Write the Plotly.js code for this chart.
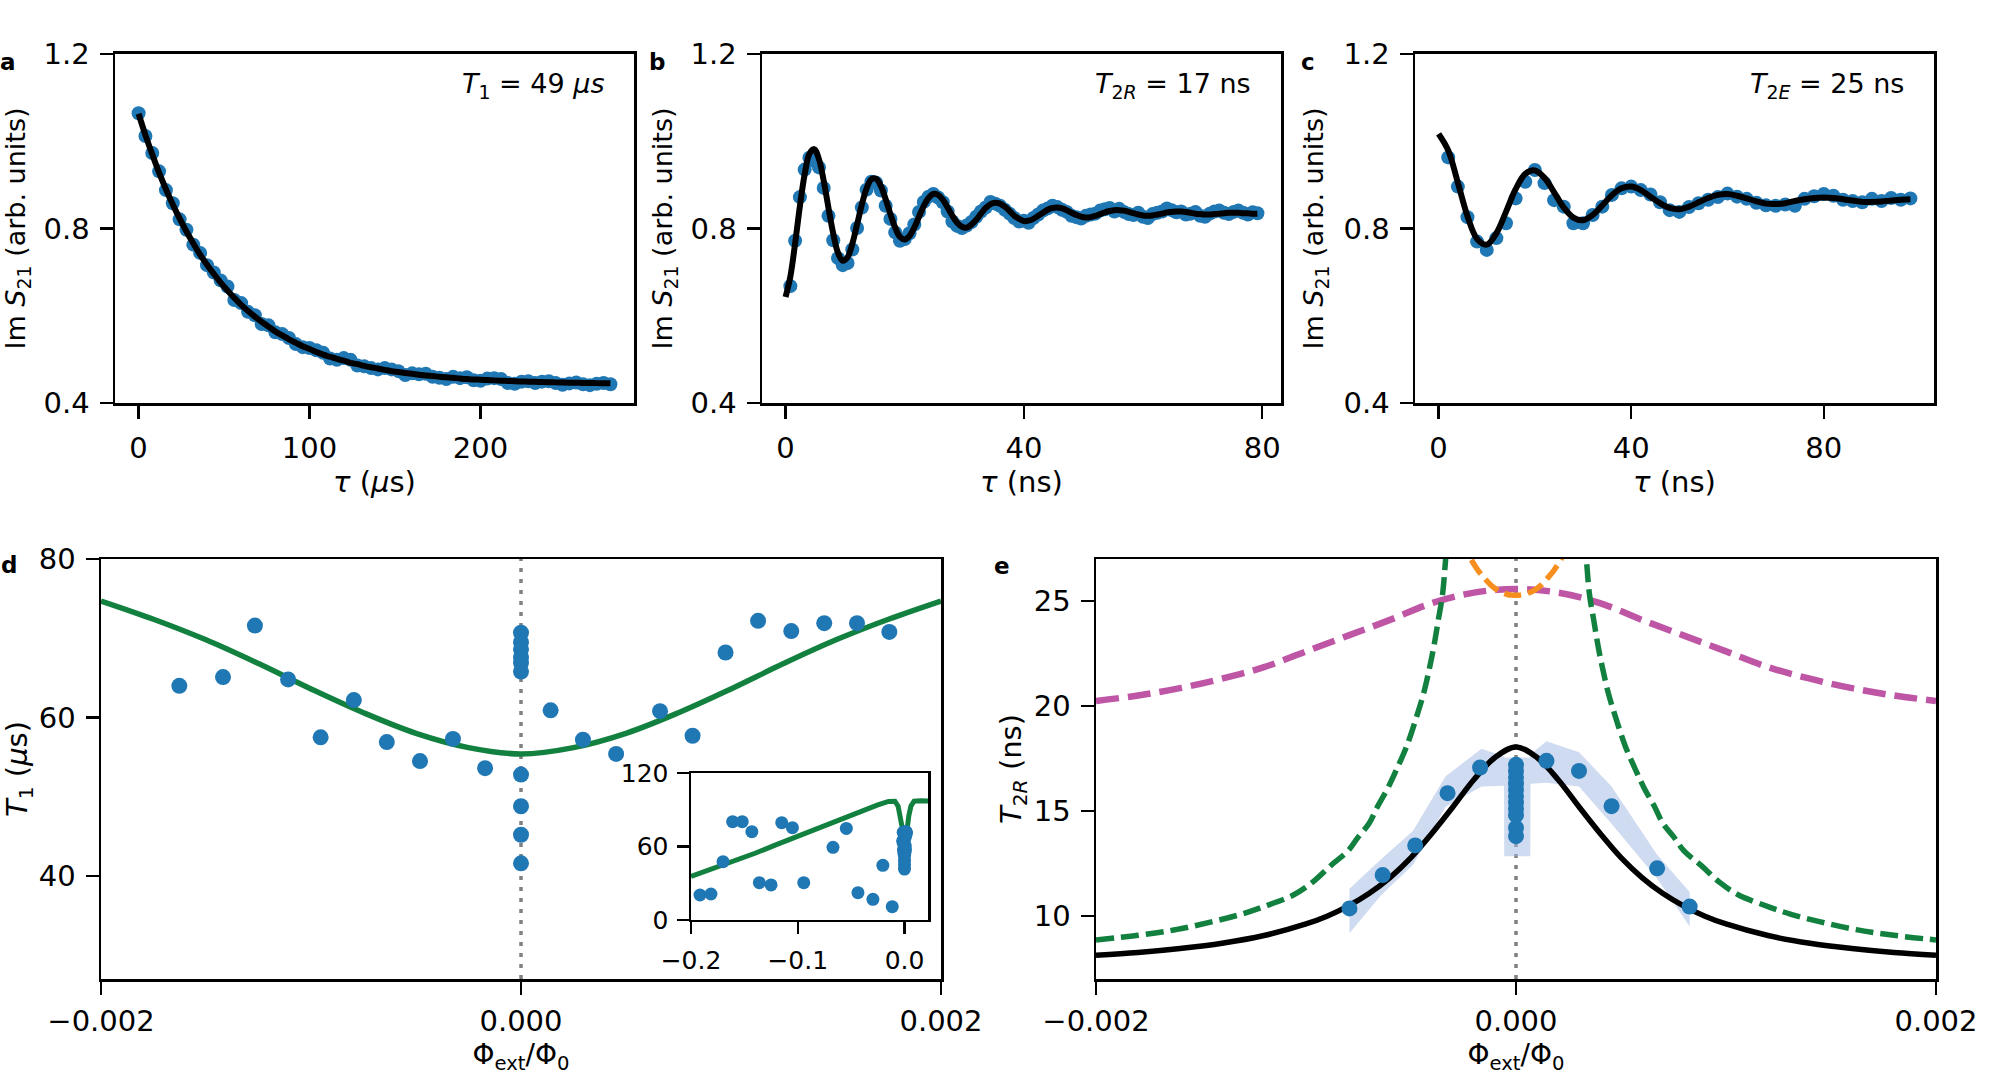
<!DOCTYPE html>
<html>
<head>
<meta charset="utf-8">
<script src="https://cdn.plot.ly/plotly-3.0.1.min.js"></script>
<style>
  body { margin: 0; background: white; }
  #graphDiv { width: 2000px; height: 1075px; }
</style>
</head>
<body>
<div id="graphDiv"></div>
<script>
// panel a: T1 decay
var tA = [0,4,8,12,16,20,24,28,32,36,40,44,48,52,56,60,64,68,72,76,80,84,88,92,96,100,104,108,112,116,
  120,124,128,132,136,140,144,148,152,156,160,164,168,172,176,180,184,188,192,196,200,204,208,212,216,220,
  224,228,232,236,240,244,248,252,256,260,264,268,272,276];
var dataA = [1.064,1.012,0.973,0.931,0.888,0.858,0.821,0.797,0.763,0.744,
  0.716,0.699,0.681,0.667,0.636,0.629,0.609,0.601,0.581,0.578,
  0.562,0.558,0.549,0.535,0.528,0.526,0.521,0.515,0.502,0.499,
  0.503,0.499,0.486,0.484,0.480,0.477,0.480,0.477,0.473,0.464,
  0.468,0.466,0.467,0.460,0.458,0.455,0.460,0.457,0.459,0.452,
  0.451,0.456,0.457,0.455,0.446,0.444,0.449,0.450,0.446,0.449,
  0.450,0.446,0.442,0.445,0.447,0.443,0.441,0.444,0.446,0.443];
var fitA = [1.063,1.014,0.970,0.928,0.890,0.855,0.823,0.793,0.766,0.740,
  0.717,0.696,0.676,0.658,0.641,0.625,0.611,0.598,0.586,0.575,
  0.564,0.555,0.546,0.538,0.530,0.524,0.517,0.511,0.506,0.501,
  0.497,0.492,0.489,0.485,0.482,0.479,0.476,0.473,0.471,0.469,
  0.467,0.465,0.463,0.462,0.460,0.459,0.458,0.456,0.455,0.454,
  0.4535,0.4527,0.4519,0.4512,0.4506,0.4499,0.4494,0.4489,0.4485,0.4480,
  0.4476,0.4473,0.4469,0.4466,0.4463,0.4461,0.4458,0.4456,0.4454,0.4452];

// panel b: Ramsey
var tB = [0,0.8,1.6,2.4,3.2,4,4.8,5.6,6.4,7.2,8,8.8,9.6,10.4,11.2,12,12.8,13.6,14.4,15.2,
  16,16.8,17.6,18.4,19.2,20,20.8,21.6,22.4,23.2,24,24.8,25.6,26.4,27.2,28,28.8,29.6,30.4,31.2,
  32,32.8,33.6,34.4,35.2,36,36.8,37.6,38.4,39.2,40,40.8,41.6,42.4,43.2,44,44.8,45.6,46.4,47.2,
  48,48.8,49.6,50.4,51.2,52,52.8,53.6,54.4,55.2,56,56.8,57.6,58.4,59.2,60,60.8,61.6,62.4,63.2,
  64,64.8,65.6,66.4,67.2,68,68.8,69.6,70.4,71.2,72,72.8,73.6,74.4,75.2,76,76.8,77.6,78.4,79.2];
var fitB = [0.643,0.690,0.766,0.851,0.924,0.971,0.982,0.959,0.909,0.847,
  0.788,0.744,0.726,0.734,0.765,0.809,0.855,0.892,0.913,0.914,
  0.897,0.867,0.833,0.802,0.781,0.775,0.783,0.802,0.827,0.852,
  0.870,0.879,0.877,0.866,0.848,0.829,0.813,0.804,0.802,0.809,
  0.820,0.834,0.847,0.856,0.859,0.857,0.850,0.840,0.829,0.822,
  0.817,0.818,0.822,0.829,0.836,0.843,0.847,0.848,0.846,0.842,
  0.836,0.831,0.827,0.825,0.826,0.829,0.833,0.837,0.840,0.842,
  0.842,0.841,0.838,0.835,0.832,0.830,0.829,0.830,0.832,0.834,
  0.837,0.838,0.839,0.839,0.838,0.836,0.834,0.833,0.832,0.832,
  0.833,0.834,0.835,0.836,0.836,0.836,0.835,0.835,0.834,0.834];
var dataB = [0.668,0.772,0.872,0.935,0.962,0.955,0.940,0.893,0.829,
  0.773,0.732,0.716,0.721,0.752,0.801,0.848,0.889,0.907,0.905,
  0.887,0.852,0.822,0.791,0.772,0.776,0.789,0.809,0.838,0.861,
  0.873,0.879,0.871,0.860,0.839,0.816,0.806,0.801,0.807,0.815,
  0.827,0.839,0.848,0.861,0.857,0.852,0.843,0.834,0.824,0.816,
  0.818,0.813,0.824,0.832,0.841,0.846,0.852,0.849,0.843,0.838,
  0.829,0.826,0.823,0.829,0.832,0.834,0.841,0.844,0.847,0.839,
  0.845,0.838,0.833,0.831,0.836,0.827,0.824,0.833,0.836,0.839,
  0.846,0.842,0.837,0.839,0.832,0.834,0.838,0.829,0.827,0.834,
  0.839,0.841,0.836,0.833,0.838,0.841,0.836,0.832,0.837,0.835];

// panel c: echo
var tC = [0,2,4,6,8,10,12,14,16,18,20,22,24,26,28,30,32,34,36,38,40,42,44,46,48,
  50,52,54,56,58,60,62,64,66,68,70,72,74,76,78,80,82,84,86,88,90,92,94,96,98];
var fitC = [1.017,0.979,0.905,0.828,0.776,0.763,0.789,0.838,0.890,0.925,
  0.933,0.916,0.883,0.848,0.825,0.819,0.831,0.853,0.876,0.892,
  0.896,0.888,0.873,0.858,0.847,0.844,0.850,0.860,0.870,0.877,
  0.879,0.875,0.869,0.862,0.857,0.856,0.858,0.863,0.867,0.870,
  0.871,0.870,0.867,0.864,0.861,0.861,0.862,0.864,0.866,0.867];
var dataC = [0.963,0.896,0.826,0.770,0.751,0.778,0.812,0.869,0.907,0.934,
  0.904,0.865,0.850,0.812,0.812,0.831,0.850,0.877,0.892,0.896,
  0.888,0.878,0.860,0.842,0.838,0.849,0.858,0.866,0.872,0.880,
  0.873,0.868,0.859,0.853,0.852,0.855,0.852,0.868,0.874,0.879,
  0.875,0.866,0.863,0.860,0.868,0.863,0.870,0.866,0.869];

// panel d: T1 vs flux
var phiD = [-0.001627,-0.001419,-0.001267,-0.001109,-0.000954,-0.000796,-0.000639,-0.000481,-0.000324,-0.000171,
  0,0,0,0,0,0,0,0,0,0,
  0.000141,0.000295,0.000453,0.000662,0.000817,0.000974,0.001129,0.001287,0.001444,0.0016,0.001754];
var t1D = [64.0,65.1,71.6,64.8,57.5,62.2,56.9,54.5,57.3,53.6,
  70.7,69.5,68.6,67.6,66.9,65.8,52.8,48.8,45.2,41.6,
  60.9,57.2,55.4,60.8,57.7,68.2,72.2,70.9,71.9,71.9,70.8];
var phiFitD = [-0.002,-0.00175,-0.0015,-0.00125,-0.001,-0.00075,-0.0005,-0.00025,0,
  0.00025,0.0005,0.00075,0.001,0.00125,0.0015,0.00175,0.002];
var t1FitD = [74.7,72.4,69.8,66.8,63.6,60.6,58.0,56.2,55.4,56.2,58.0,60.6,63.6,66.8,69.8,72.4,74.7];

// inset of d
var phiIn = [-0.1916,-0.1813,-0.170,-0.161,-0.152,-0.143,-0.136,-0.125,-0.115,-0.105,-0.0944,
  -0.067,-0.0545,-0.0436,-0.0296,-0.0203,-0.0115];
var t1In = [20.4,21.2,47.6,80.3,80.3,72.1,30.5,28.6,79.5,75.4,30.5,59.3,74.8,22.3,16.9,44.6,10.9];
var phiFitIn = [-0.2,-0.18,-0.16,-0.14,-0.12,-0.1,-0.08,-0.06,-0.04,-0.025,-0.015,-0.009,-0.006,-0.004,
  -0.002,-0.001,0,0.001,0.002,0.004,0.006,0.009,0.015,0.022];
var t1FitIn = [35.5,41.5,48,54.5,61.5,68.5,75.5,82.5,89,94,96.8,97,93,85,74.7,63.6,55.4,63.6,74.7,85,93,97,97.3,97.2];

// panel e: T2R vs flux
var phiE = [-0.000793,-0.000635,-0.00048,-0.000326,-0.000171,0,0,0,0,0,0,0,0,0,0,0,
  0.000145,0.0003,0.000455,0.000672,0.000827];
var t2E = [10.36,11.95,13.36,15.85,17.07,17.2,16.9,16.6,16.3,16.0,15.7,15.4,15.1,14.8,14.2,13.8,
  17.39,16.91,15.23,12.27,10.45];
var bandPhi = [-0.000793,-0.000645,-0.00049,-0.000335,-0.000164,-0.000057,-0.000056,0.000068,0.000069,
  0.000145,0.0003,0.000455,0.000672,0.000827];
var bandLo = [9.18,10.97,12.44,15.2,16.17,16.2,12.84,12.84,16.3,16.34,16.17,14.39,11.78,9.5];
var bandHi = [11.3,12.68,14.06,16.66,17.96,17.6,17.55,17.55,17.7,18.32,17.8,16.17,12.92,11.14];
var phiFitE = [-0.002,-0.0018,-0.0016,-0.0014,-0.0012,-0.001,-0.0009,-0.0008,-0.0007,-0.0006,-0.0005,-0.0004,
  -0.0003,-0.0002,-0.0001,0,0.0001,0.0002,0.0003,0.0004,0.0005,0.0006,0.0007,0.0008,0.0009,0.001,
  0.0012,0.0014,0.0016,0.0018,0.002];
var t2FitE = [8.13,8.26,8.45,8.70,9.07,9.62,9.99,10.47,11.07,11.83,12.78,13.94,15.2,16.5,17.55,18.05,
  17.55,16.5,15.2,13.94,12.78,11.83,11.07,10.47,9.99,9.62,9.07,8.70,8.45,8.26,8.13];
var phiGreen = [-0.002,-0.0018,-0.00162,-0.00145,-0.00131,-0.0012,-0.00106,-0.00097,-0.00088,-0.0008,
  -0.00075,-0.0007,-0.00066,-0.00061,-0.00057,-0.00052,-0.00047,-0.00044,-0.00041,-0.00039,-0.00037,
  -0.00035,-0.000335,-0.00032,-0.0003,null,
  0.0003,0.00032,0.000335,0.00035,0.00037,0.00039,0.00041,0.00044,0.00047,0.00052,0.00057,0.00061,
  0.00066,0.0007,0.00075,0.0008,0.00088,0.00097,0.00106,0.0012,0.00131,0.00145,0.00162,0.0018,0.002];
var t2Green = [8.86,9.08,9.35,9.72,10.08,10.45,11.0,11.6,12.42,13.1,13.78,14.4,15.2,16.1,16.95,18.1,
  19.6,20.6,21.9,22.9,24.1,25.3,27.0,28.8,31.5,null,
  31.5,28.8,27.0,25.3,24.1,22.9,21.9,20.6,19.6,18.1,16.95,16.1,15.2,14.4,13.78,13.1,12.42,11.6,11.0,
  10.45,10.08,9.72,9.35,9.08,8.86];
var phiMag = [-0.002,-0.0018,-0.0016,-0.0014,-0.0012,-0.001,-0.0008,-0.0006,-0.0004,-0.0002,0,
  0.0002,0.0004,0.0006,0.0008,0.001,0.0012,0.0014,0.0016,0.0018,0.002];
var t2Mag = [20.24,20.5,20.85,21.3,21.85,22.6,23.35,24.1,24.9,25.4,25.57,
  25.4,24.9,24.1,23.35,22.6,21.85,21.3,20.85,20.5,20.24];
var phiOr = [-0.00026,-0.00024,-0.00022,-0.0002,-0.00018,-0.00016,-0.00014,-0.00012,-0.0001,-0.00008,
  -0.00006,-0.00004,-0.00002,0,0.00002,0.00004,0.00006,0.00008,0.0001,0.00012,0.00014,0.00016,
  0.00018,0.0002,0.00022,0.00024,0.00026];
var t2Or = [28.0,27.5,27.1,26.75,26.45,26.2,25.97,25.76,25.6,25.47,25.38,25.31,25.28,25.27,
  25.28,25.31,25.38,25.47,25.6,25.76,25.97,26.2,26.45,26.75,27.1,27.5,28.0];

var fluxTicks = [-0.002, 0, 0.002];
var fluxText = ['\u22120.002', '0.000', '0.002'];

var blue = '#1f77b4';
var green = '#12803e';
var magenta = '#be55a5';
var orange = '#f78f1e';
var FONT = 'DejaVu Sans';
var TICK = 29;

function initGraph()
{
  var data = [
    // a
    {x: tA, y: dataA, xaxis: 'x', yaxis: 'y', mode: 'markers', type: 'scatter',
     marker: {color: blue, size: 14}},
    {x: tA, y: fitA, xaxis: 'x', yaxis: 'y', mode: 'lines', type: 'scatter',
     line: {color: 'black', width: 6, shape: 'spline'}},
    // b
    {x: tB.slice(1), y: dataB, xaxis: 'x2', yaxis: 'y2', mode: 'markers', type: 'scatter',
     marker: {color: blue, size: 14}},
    {x: tB, y: fitB, xaxis: 'x2', yaxis: 'y2', mode: 'lines', type: 'scatter',
     line: {color: 'black', width: 6, shape: 'spline'}},
    // c
    {x: tC.slice(1), y: dataC, xaxis: 'x3', yaxis: 'y3', mode: 'markers', type: 'scatter',
     marker: {color: blue, size: 14}},
    {x: tC, y: fitC, xaxis: 'x3', yaxis: 'y3', mode: 'lines', type: 'scatter',
     line: {color: 'black', width: 6, shape: 'spline'}},
    // d
    {x: phiFitD, y: t1FitD, xaxis: 'x4', yaxis: 'y4', mode: 'lines', type: 'scatter',
     line: {color: green, width: 5.5, shape: 'spline'}},
    {x: phiD, y: t1D, xaxis: 'x4', yaxis: 'y4', mode: 'markers', type: 'scatter',
     marker: {color: blue, size: 16}},
    // inset
    {x: phiFitIn, y: t1FitIn, xaxis: 'x6', yaxis: 'y6', mode: 'lines', type: 'scatter',
     line: {color: green, width: 5}},
    {x: phiIn.concat(phiD), y: t1In.concat(t1D), xaxis: 'x6', yaxis: 'y6', mode: 'markers', type: 'scatter',
     marker: {color: blue, size: 13}},
    // e
    {x: bandPhi, y: bandLo, xaxis: 'x5', yaxis: 'y5', mode: 'lines', type: 'scatter',
     line: {width: 0, color: 'rgba(0,0,0,0)'}},
    {x: bandPhi, y: bandHi, xaxis: 'x5', yaxis: 'y5', mode: 'lines', type: 'scatter',
     line: {width: 0, color: 'rgba(0,0,0,0)'}, fill: 'tonexty', fillcolor: 'rgba(160,184,226,0.5)'},
    {x: phiMag, y: t2Mag, xaxis: 'x5', yaxis: 'y5', mode: 'lines', type: 'scatter',
     line: {color: magenta, width: 6.5, dash: '23px,9px', shape: 'spline'}},
    {x: phiOr, y: t2Or, xaxis: 'x5', yaxis: 'y5', mode: 'lines', type: 'scatter',
     line: {color: orange, width: 5.5, dash: '17px,7px', shape: 'spline'}},
    {x: phiGreen, y: t2Green, xaxis: 'x5', yaxis: 'y5', mode: 'lines', type: 'scatter',
     line: {color: green, width: 5.5, dash: '18px,7px', shape: 'spline'}, connectgaps: false},
    {x: phiFitE, y: t2FitE, xaxis: 'x5', yaxis: 'y5', mode: 'lines', type: 'scatter',
     line: {color: 'black', width: 5.5, shape: 'spline'}},
    {x: phiE, y: t2E, xaxis: 'x5', yaxis: 'y5', mode: 'markers', type: 'scatter',
     marker: {color: blue, size: 16}}
  ];

  function ax(opts)
  {
    var base = {
      showline: true, linecolor: 'black', linewidth: 2.5, mirror: true,
      ticks: 'outside', ticklen: 13, tickwidth: 2.5, tickcolor: 'black',
      showgrid: false, zeroline: false, fixedrange: true,
      tickfont: {family: FONT, size: TICK, color: 'black'}
    };
    for (var k in opts) base[k] = opts[k];
    return base;
  }
  function ttl(text, standoff, size)
  {
    return {text: text, font: {family: FONT, size: size || 29, color: 'black'}, standoff: standoff};
  }

  var yS21 = 'Im <i>S</i><sub>21</sub> (arb. units)';
  var yTopTicks = {tickvals: [0.4, 0.8, 1.2], ticktext: ['0.4', '0.8', '1.2'], range: [0.4, 1.2]};

  var layout = {
    width: 2000,
    height: 1075,
    margin: {l: 0, r: 0, t: 0, b: 0},
    paper_bgcolor: 'white',
    plot_bgcolor: 'white',
    showlegend: false,
    font: {family: FONT, size: 24, color: 'black'},
    xaxis: ax({domain: [0.0575, 0.317], anchor: 'y', range: [-13.8, 289.8],
      tickvals: [0, 100, 200], ticklabelstandoff: 5, title: ttl('<i>τ</i> (<i>μ</i>s)', 6)}),
    yaxis: ax(Object.assign({domain: [0.6251, 0.9498], anchor: 'x', ticklabelstandoff: 4,
      title: ttl(yS21, 12, 27)}, yTopTicks)),
    xaxis2: ax({domain: [0.381, 0.6405], anchor: 'y2', range: [-3.96, 83.16],
      tickvals: [0, 40, 80], ticklabelstandoff: 5, title: ttl('<i>τ</i> (ns)', 6)}),
    yaxis2: ax(Object.assign({domain: [0.6251, 0.9498], anchor: 'x2', ticklabelstandoff: 4,
      title: ttl(yS21, 10, 27)}, yTopTicks)),
    xaxis3: ax({domain: [0.7075, 0.967], anchor: 'y3', range: [-4.9, 102.9],
      tickvals: [0, 40, 80], ticklabelstandoff: 5, title: ttl('<i>τ</i> (ns)', 6)}),
    yaxis3: ax(Object.assign({domain: [0.6251, 0.9498], anchor: 'x3', ticklabelstandoff: 4,
      title: ttl(yS21, 12, 27)}, yTopTicks)),
    xaxis4: ax({domain: [0.0505, 0.4705], anchor: 'y4', range: [-0.002, 0.002],
      tickvals: fluxTicks, ticktext: fluxText, ticklabelstandoff: 2,
      title: ttl('Φ<sub>ext</sub>/Φ<sub>0</sub>', 4, 28)}),
    yaxis4: ax({domain: [0.0893, 0.48], anchor: 'x4', range: [27, 80],
      tickvals: [40, 60, 80], ticklabelstandoff: 4, title: ttl('<i>T</i><sub>1</sub> (<i>μ</i>s)', 16)}),
    xaxis5: ax({domain: [0.548, 0.968], anchor: 'y5', range: [-0.002, 0.002],
      tickvals: fluxTicks, ticktext: fluxText, ticklabelstandoff: 2,
      title: ttl('Φ<sub>ext</sub>/Φ<sub>0</sub>', 4, 28)}),
    yaxis5: ax({domain: [0.0893, 0.48], anchor: 'x5', range: [7, 27],
      tickvals: [10, 15, 20, 25], ticklabelstandoff: 4,
      title: ttl('<i>T</i><sub>2<i>R</i></sub> (ns)', 4)}),
    xaxis6: ax({domain: [0.3455, 0.464], anchor: 'y6', range: [-0.2, 0.022],
      tickvals: [-0.2, -0.1, 0], ticktext: ['\u22120.2', '\u22120.1', '0.0'], ticklen: 12,
      ticklabelstandoff: 5, tickfont: {family: FONT, size: 25, color: 'black'}}),
    yaxis6: ax({domain: [0.1442, 0.2809], anchor: 'x6', range: [0, 120],
      tickvals: [0, 60, 120], ticklen: 12, ticklabelstandoff: 3,
      tickfont: {family: FONT, size: 25, color: 'black'}}),
    shapes: [
      {type: 'line', xref: 'x4', yref: 'y4 domain', x0: 0, x1: 0, y0: 0, y1: 1, layer: 'below',
       line: {color: '#808080', width: 3.5, dash: '4px,7px'}},
      {type: 'line', xref: 'x6', yref: 'y6 domain', x0: 0, x1: 0, y0: 0, y1: 1, layer: 'below',
       line: {color: '#808080', width: 3.5, dash: '4px,7px'}},
      {type: 'line', xref: 'x5', yref: 'y5 domain', x0: 0, x1: 0, y0: 0, y1: 1, layer: 'below',
       line: {color: '#808080', width: 3.5, dash: '4px,7px'}}
    ],
    annotations: [
      {text: '<b>a</b>', xref: 'paper', yref: 'paper', x: 0.004, y: 0.9423, showarrow: false,
       xanchor: 'center', yanchor: 'middle', font: {size: 23}},
      {text: '<b>b</b>', xref: 'paper', yref: 'paper', x: 0.3285, y: 0.9423, showarrow: false,
       xanchor: 'center', yanchor: 'middle', font: {size: 23}},
      {text: '<b>c</b>', xref: 'paper', yref: 'paper', x: 0.654, y: 0.9423, showarrow: false,
       xanchor: 'center', yanchor: 'middle', font: {size: 23}},
      {text: '<b>d</b>', xref: 'paper', yref: 'paper', x: 0.0045, y: 0.4744, showarrow: false,
       xanchor: 'center', yanchor: 'middle', font: {size: 23}},
      {text: '<b>e</b>', xref: 'paper', yref: 'paper', x: 0.501, y: 0.4735, showarrow: false,
       xanchor: 'center', yanchor: 'middle', font: {size: 23}},
      {text: '<i>T</i><sub>1</sub> = 49 <i>μs</i>', xref: 'paper', yref: 'paper', x: 0.3035, y: 0.92,
       showarrow: false, xanchor: 'right', yanchor: 'middle', font: {size: 27}},
      {text: '<i>T</i><sub>2<i>R</i></sub> = 17 ns', xref: 'paper', yref: 'paper', x: 0.6265, y: 0.92,
       showarrow: false, xanchor: 'right', yanchor: 'middle', font: {size: 27}},
      {text: '<i>T</i><sub>2<i>E</i></sub> = 25 ns', xref: 'paper', yref: 'paper', x: 0.953, y: 0.92,
       showarrow: false, xanchor: 'right', yanchor: 'middle', font: {size: 27}}
    ]
  };

  Plotly.newPlot('graphDiv', data, layout, {staticPlot: true});
}
initGraph();
</script>
</body>
</html>
